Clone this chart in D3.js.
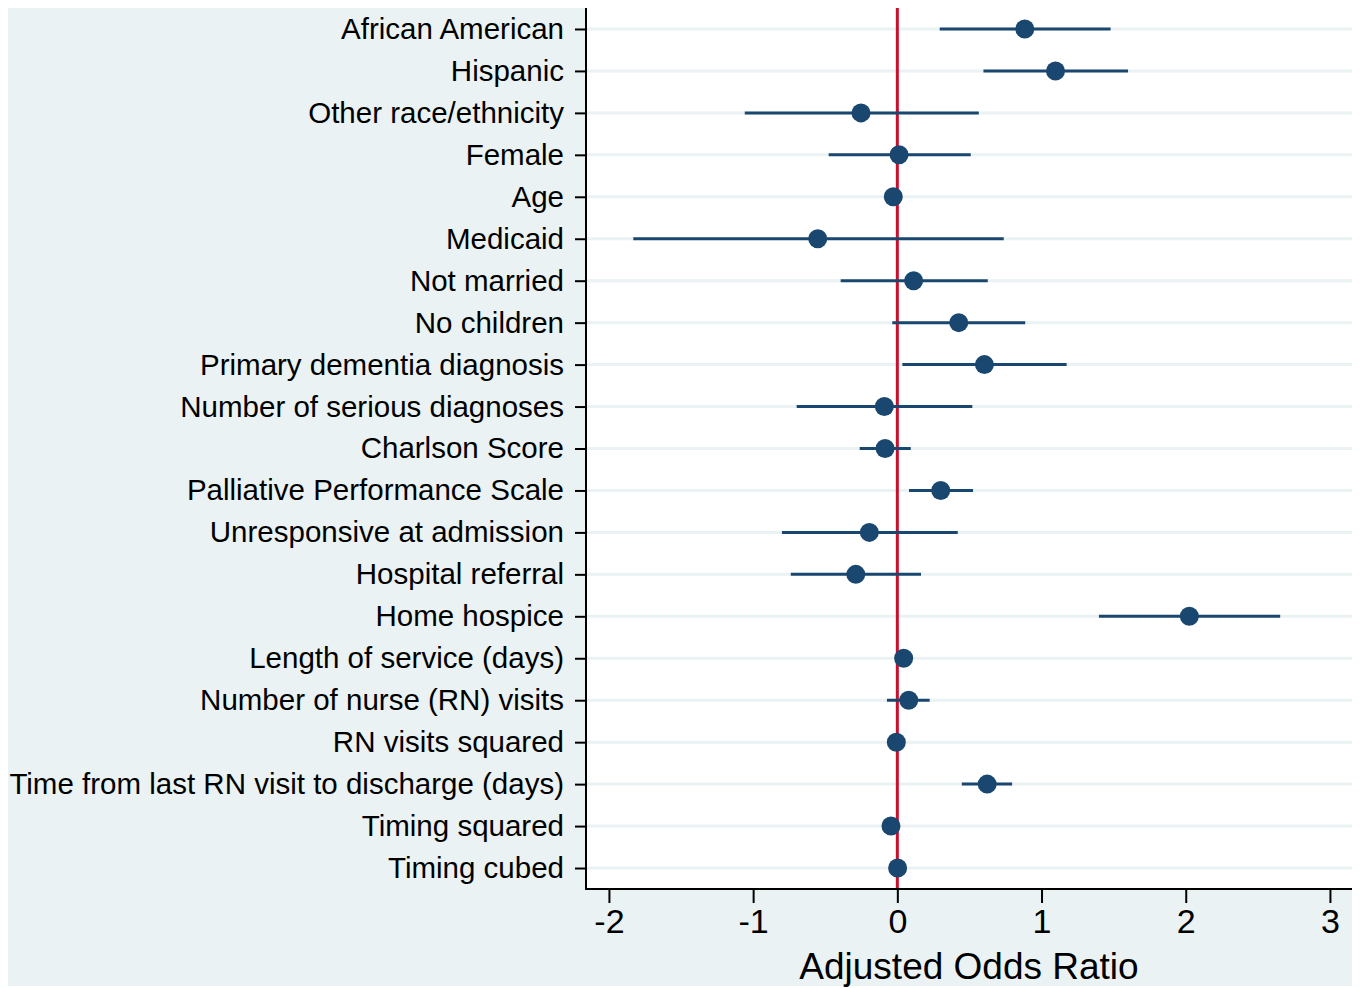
<!DOCTYPE html>
<html>
<head>
<meta charset="utf-8">
<script src="https://cdn.jsdelivr.net/npm/d3@7"></script>
<style>
  html, body { margin: 0; padding: 0; background: #ffffff; }
  svg { display: block; }
  text { font-family: "Liberation Sans", Arial, Helvetica, sans-serif; fill: #000; }
</style>
</head>
<body>
<svg id="chart" width="1360" height="988"></svg>
<script>
// ---- data ----
const categories = [
  "African American", "Hispanic", "Other race/ethnicity", "Female", "Age",
  "Medicaid", "Not married", "No children", "Primary dementia diagnosis",
  "Number of serious diagnoses", "Charlson Score", "Palliative Performance Scale",
  "Unresponsive at admission", "Hospital referral", "Home hospice",
  "Length of service (days)", "Number of nurse (RN) visits", "RN visits squared",
  "Time from last RN visit to discharge (days)", "Timing squared", "Timing cubed"
];
const estimates = [0.884, 1.097, -0.252, 0.012, -0.028, -0.552, 0.113, 0.426, 0.604,
  -0.090, -0.085, 0.301, -0.194, -0.288, 2.025, 0.044, 0.079, -0.007, 0.623, -0.044, 0.002];
const lower = [0.294, 0.597, -1.058, -0.476, -0.040, -1.831, -0.393, -0.035, 0.035,
  -0.698, -0.261, 0.081, -0.800, -0.739, 1.398, 0.030, -0.072, -0.015, 0.447, -0.055, -0.008];
const upper = [1.479, 1.600, 0.565, 0.509, -0.016, 0.738, 0.627, 0.887, 1.174,
  0.520, 0.093, 0.525, 0.419, 0.164, 2.655, 0.058, 0.224, 0.001, 0.796, -0.033, 0.012];
const xTicks = [-2, -1, 0, 1, 2, 3];
const xTickLabels = ["-2", "-1", "0", "1", "2", "3"];
const xTitle = "Adjusted Odds Ratio";
const refValue = 0;

const rows = categories.map((c, i) => ({ label: c, est: estimates[i], lo: lower[i], hi: upper[i] }));

// ---- layout ----
const outer = { x0: 8, y0: 8, x1: 1352, y1: 986 };
const plot = { x0: 586, y0: 8, x1: 1352, y1: 889 };

const svg = d3.select("#chart");

// graph region background
svg.append("rect")
  .attr("x", outer.x0).attr("y", outer.y0)
  .attr("width", outer.x1 - outer.x0).attr("height", outer.y1 - outer.y0)
  .attr("fill", "#eaf2f3");

// plot region background
svg.append("rect")
  .attr("x", plot.x0).attr("y", plot.y0)
  .attr("width", plot.x1 - plot.x0).attr("height", plot.y1 - plot.y0)
  .attr("fill", "#ffffff");

const x = d3.scaleLinear().domain([-2.159, 3.153]).range([plot.x0, plot.x1]);
const y = d3.scalePoint().domain(categories).range([plot.y0, plot.y1]).padding(0.5);

// gridlines
svg.append("g").selectAll("line").data(categories).join("line")
  .attr("x1", plot.x0).attr("x2", plot.x1)
  .attr("y1", d => y(d)).attr("y2", d => y(d))
  .attr("stroke", "#eaf2f3").attr("stroke-width", 3);

// reference line
svg.append("line")
  .attr("x1", x(refValue)).attr("x2", x(refValue))
  .attr("y1", plot.y0).attr("y2", plot.y1)
  .attr("stroke", "#c8102e").attr("stroke-width", 3);

// CI lines
svg.append("g").selectAll("line").data(rows).join("line")
  .attr("x1", d => x(d.lo)).attr("x2", d => x(d.hi))
  .attr("y1", d => y(d.label)).attr("y2", d => y(d.label))
  .attr("stroke", "#1a476f").attr("stroke-width", 3);

// points
svg.append("g").selectAll("circle").data(rows).join("circle")
  .attr("cx", d => x(d.est)).attr("cy", d => y(d.label))
  .attr("r", 9.5).attr("fill", "#1a476f");

// y axis
const yAxis = svg.append("g")
  .attr("transform", `translate(${plot.x0},0)`)
  .call(d3.axisLeft(y).tickSize(11).tickPadding(11));
yAxis.select(".domain").remove();
yAxis.selectAll(".tick line").attr("stroke", "#000").attr("stroke-width", 2);
yAxis.selectAll(".tick text")
  .style("font-family", '"Liberation Sans", Arial, sans-serif')
  .style("font-size", "29.5px").attr("fill", "#000");
svg.append("line")
  .attr("x1", plot.x0).attr("x2", plot.x0)
  .attr("y1", plot.y0).attr("y2", plot.y1 + 1)
  .attr("stroke", "#000").attr("stroke-width", 2);

// x axis
const xAxis = svg.append("g")
  .attr("transform", `translate(0,${plot.y1})`)
  .call(d3.axisBottom(x).tickValues(xTicks)
    .tickFormat((d, i) => xTickLabels[i]).tickSize(14).tickPadding(6));
xAxis.select(".domain").remove();
xAxis.selectAll(".tick line").attr("stroke", "#000").attr("stroke-width", 2);
xAxis.selectAll(".tick text")
  .style("font-family", '"Liberation Sans", Arial, sans-serif')
  .style("font-size", "34px").attr("fill", "#000");
svg.append("line")
  .attr("x1", plot.x0 - 1).attr("x2", plot.x1)
  .attr("y1", plot.y1).attr("y2", plot.y1)
  .attr("stroke", "#000").attr("stroke-width", 2);

// x title
svg.append("text")
  .attr("x", (plot.x0 + plot.x1) / 2).attr("y", 979)
  .attr("text-anchor", "middle")
  .style("font-size", "37px")
  .text(xTitle);
</script>
</body>
</html>
